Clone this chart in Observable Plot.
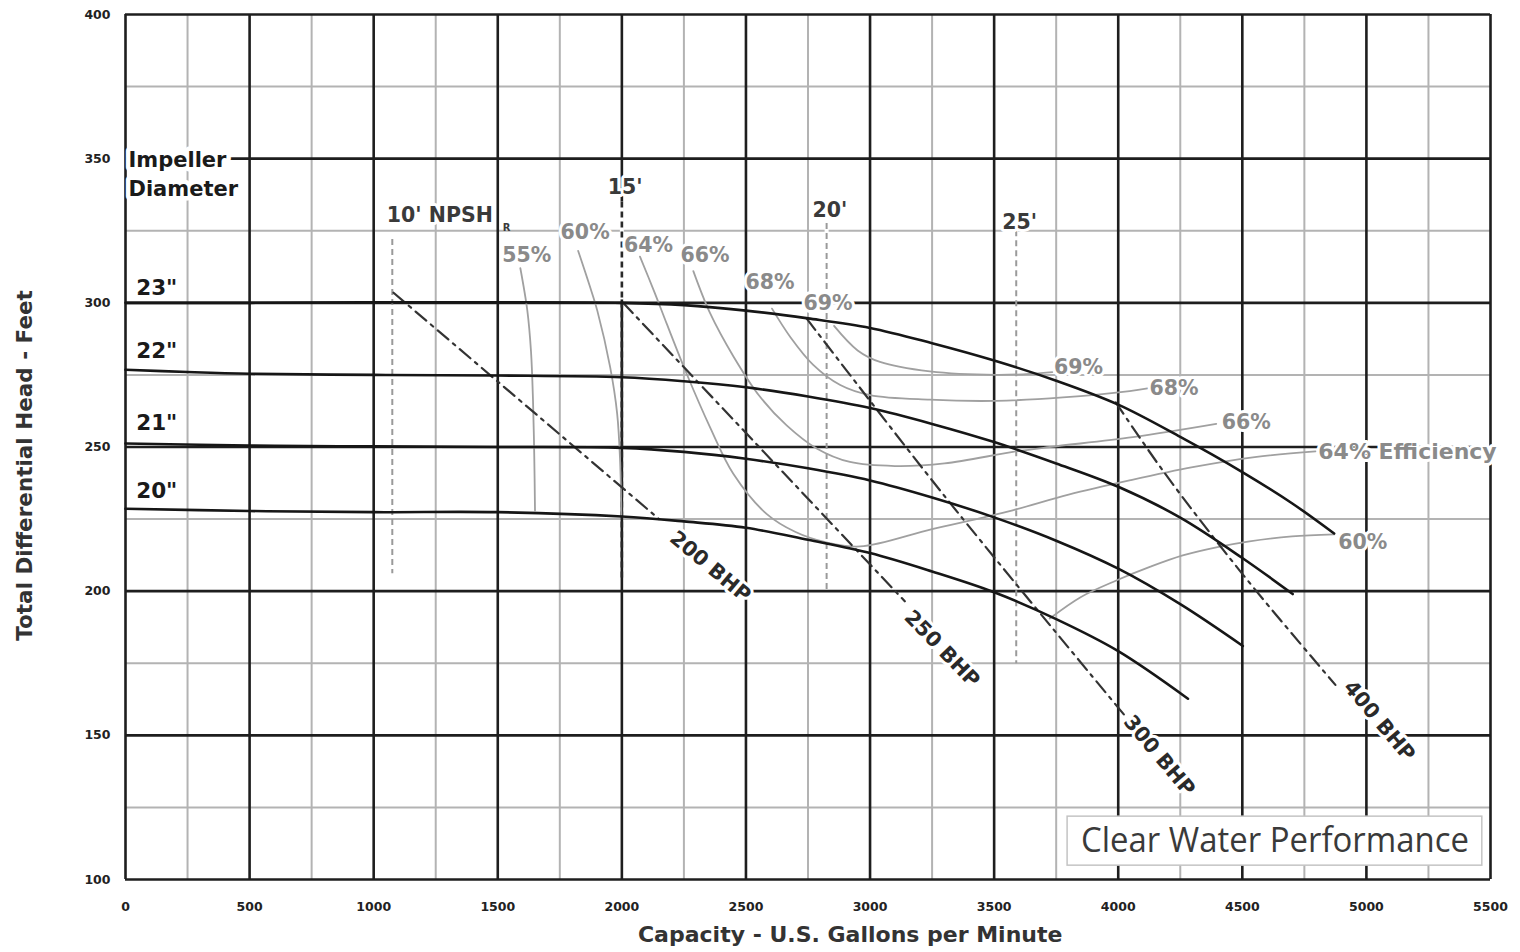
<!DOCTYPE html>
<html>
<head>
<meta charset="utf-8">
<script src="https://cdn.jsdelivr.net/npm/d3@7"></script>
<script src="https://cdn.jsdelivr.net/npm/@observablehq/plot@0.6"></script>
<style>
  html, body { margin: 0; padding: 0; background: #fff; }
  #chart { width: 1520px; height: 952px; overflow: hidden; }
</style>
</head>
<body>
<div id="chart"></div>
<script>
// ---------------- data ----------------
const xTicks = [0, 500, 1000, 1500, 2000, 2500, 3000, 3500, 4000, 4500, 5000, 5500];
const yTicks = [100, 150, 200, 250, 300, 350, 400];
const xMinor = [250, 750, 1250, 1750, 2250, 2750, 3250, 3750, 4250, 4750, 5250];
const yMinor = [125, 175, 225, 275, 325, 375];

const xTitle = "Capacity - U.S. Gallons per Minute";
const yTitle = "Total Differential Head - Feet";

// head-capacity curves per impeller diameter [gpm, ft]
const impellerNames = ['23"', '22"', '21"', '20"'];
const head23 = [[0,300],[500,300],[1000,300.2],[1500,300.2],[2000,300],[2250,299.2],[2500,297.3],[2750,294.6],[3000,291.3],[3250,286],[3500,280],[3750,273],[4000,264.7],[4250,253.5],[4500,241.3],[4700,230.5],[4870,220]];
const head22 = [[0,276.8],[250,276],[500,275.4],[1000,275],[1500,274.8],[2000,274.2],[2250,272.8],[2500,270.7],[2750,267.5],[3000,263.5],[3250,258],[3500,251.7],[3750,244.3],[4000,236.2],[4250,225.5],[4500,211.5],[4703,199]];
const head21 = [[0,251.2],[500,250.5],[1000,250.2],[1500,250],[2000,249.7],[2250,248.3],[2500,245.9],[2750,242.6],[3000,238.4],[3250,232.5],[3500,225.6],[3750,217.5],[4000,207.8],[4250,195.5],[4502,181]];
const head20 = [[0,228.6],[500,227.8],[1000,227.4],[1500,227.4],[2000,225.9],[2250,224.2],[2500,222],[2750,217.8],[3000,213.2],[3250,206.8],[3500,199.6],[3750,190.3],[4000,179.2],[4281,162.7]];
const impellerLabelY = [305.1, 283.1, 258.2, 234.6];
const impellerLabelX = 43;

// efficiency contours [gpm, ft]
const eff55 = [[1591,312],[1619,297.4],[1634,283],[1642,266],[1647,247],[1650,228]];
const eff60 = [[1824,318],[1870,306],[1901,297.3],[1953,277.6],[1981,261.6],[1993,245],[1998,226.5]];
const eff64 = [[2073,316],[2130,304],[2181,292.7],[2261,275.4],[2355,256.9],[2449,240.7],[2583,226.8],[2700,220.5],[2820,217],[2960,215.5],[3250,221.5],[3550,227.5],[3800,233.5],[4050,238.5],[4300,243],[4550,246.5],[4795,248.5]];
const eff66 = [[2288,311],[2355,296.5],[2449,281.5],[2556,267.5],[2664,257.5],[2785,249.5],[2919,244.8],[3100,243.4],[3300,244.3],[3576,248.3],[3724,250],[4059,253.4],[4395,258]];
const eff68 = [[2605,298],[2680,288],[2771,278.5],[2880,271.5],[3000,268],[3241,266.4],[3509,266],[3777,267.2],[4046,269.4],[4118,270.3]];
const eff69 = [[2855,292],[2950,283.5],[3040,279.5],[3241,276.2],[3509,275],[3650,275.4],[3735,276]];
const eff60r = [[3724,190.5],[3850,198],[3992,203.7],[4130,208.5],[4260,212.4],[4400,215.3],[4529,217.3],[4700,219],[4870,219.7]];

// efficiency labels [text, gpm, ft]
const effLabels = [["55%",1617,316.4],["60%",1852,324.5],["64%",2107,320],["66%",2335,316.4],["68%",2597,307.2],["69%",2831,299.7],
                   ["69%",3840,277.6],["68%",4225,270.2],["66%",4516,258.6],["60%",4985,217]];
const effLegendLabel = ["64% Efficiency", 4806, 248.2];

// brake horsepower lines [gpm, ft]
const bhp200 = [[1080,303.5],[2150,225]];
const bhp250 = [[2005,300],[3140,196.5]];
const bhp300 = [[2745,294.5],[3300,233],[4025,157]];
const bhp400 = [[3990,265.5],[4180,241.8],[4500,206],[4875,167.5]];
const bhpLabels = [["200 BHP",2356,208.5,40],["250 BHP",3290,180,46],["300 BHP",4165,143,50],["400 BHP",5052,155,50]];

// NPSHr lines [name, gpm, top ft, bottom ft]
const npsh = [["10'",1075,322,206],["15'",2000,335,204],["20'",2825,327.5,200],["25'",3589,325,174.8]];
const npshMainLabel = ["10' NPSH", 1053, 330.3];
const npshLabels = [["15'",2013,340.1],["20'",2838,332],["25'",3603,327.9]];
const npshSub = ["R", 1520, 326];

const headerLines = [["Impeller",12,349.4],["Diameter",12,339.3]];
const noteText = "Clear Water Performance";
const noteBox = [3796, 5467, 104.8, 121.8];

// ---------------- build tables ----------------
const toRows = (pts, series) => pts.map(([x, y]) => ({x, y, series}));
const headRows = [head23, head22, head21, head20].flatMap((p, i) => toRows(p, impellerNames[i]));
const effRows = [["55",eff55],["60",eff60],["64",eff64],["66",eff66],["68",eff68],["69",eff69],["60r",eff60r]].flatMap(([k,p]) => toRows(p, k));
const bhpRows = [["200",bhp200],["250",bhp250],["300",bhp300],["400",bhp400]].flatMap(([k,p]) => toRows(p, k));
const headLabelRows = impellerNames.map((t, i) => ({t, x: impellerLabelX, y: impellerLabelY[i]}));

const FONT = "'DejaVu Sans', 'Liberation Sans', Arial, sans-serif";
const lab = {fontFamily: FONT, fontWeight: "bold"};

const chart = Plot.plot({
  width: 1520,
  height: 952,
  marginLeft: 125,
  marginRight: 30,
  marginTop: 14,
  marginBottom: 73,
  x: {domain: [0, 5500]},
  y: {domain: [100, 400]},
  style: {fontFamily: FONT, background: "#fff", overflow: "visible"},
  marks: [
    // grid
    Plot.ruleX(xMinor, {stroke: "#b3b3b3", strokeWidth: 2}),
    Plot.ruleY(yMinor, {stroke: "#b3b3b3", strokeWidth: 2}),
    Plot.ruleX(xTicks, {stroke: "#1e1e1e", strokeWidth: 2.6}),
    Plot.ruleY(yTicks, {stroke: "#1e1e1e", strokeWidth: 2.6}),
    // axes
    Plot.axisX(xTicks, {tickSize: 0, tickPadding: 23, fontSize: 12.5, fontWeight: "bold", tickFormat: d => String(d), label: null}),
    Plot.axisY(yTicks, {tickSize: 0, tickPadding: 15, fontSize: 12.5, fontWeight: "bold", tickFormat: d => String(d), label: null}),
    Plot.text([xTitle], {x: () => 2920, frameAnchor: "bottom", dy: 62, fontSize: 22, ...lab, fill: "#333"}),
    Plot.text([yTitle], {y: () => 243.6, frameAnchor: "left", textAnchor: "middle", dx: -100, rotate: -90, fontSize: 21.5, ...lab, fill: "#333"}),
    // NPSH white underlay above 300 ft and dashed lines
    Plot.ruleX(npsh, {x: d => d[1], y1: d => d[2], y2: 301, stroke: "#fff", strokeWidth: 4}),
    Plot.ruleX(npsh, {x: d => d[1], y1: d => d[2], y2: d => d[3], stroke: d => d[0] === "15'" ? "#2a2a2a" : "#9a9a9a", strokeWidth: d => d[0] === "15'" ? 2.6 : 2, strokeDasharray: "6,4"}),
    // efficiency contours
    Plot.line(effRows, {x: "x", y: "y", z: "series", curve: "catmull-rom", stroke: "#a0a0a0", strokeWidth: 1.8}),
    // BHP lines
    Plot.line(bhpRows, {x: "x", y: "y", z: "series", curve: "catmull-rom", stroke: "#333", strokeWidth: 2.2, strokeDasharray: "14,6,3,6"}),
    // head curves
    Plot.line(headRows, {x: "x", y: "y", z: "series", curve: "catmull-rom", stroke: "#161616", strokeWidth: 2.6}),
    // labels
    Plot.text(effLabels, {x: d => d[1], y: d => d[2], text: d => d[0], fontSize: 20.5, ...lab, fill: "#8a8a8a", stroke: "#fff", strokeWidth: 6}),
    Plot.text([effLegendLabel], {x: d => d[1], y: d => d[2], text: d => d[0], textAnchor: "start", fontSize: 22, ...lab, fill: "#8a8a8a", stroke: "#fff", strokeWidth: 6}),
    Plot.text(bhpLabels, {x: d => d[1], y: d => d[2], text: d => d[0], rotate: d => d[3], fontSize: 20.5, ...lab, fill: "#2a2a2a", stroke: "#fff", strokeWidth: 6}),
    Plot.text([npshMainLabel], {x: d => d[1], y: d => d[2], text: d => d[0], textAnchor: "start", fontSize: 20.5, ...lab, fill: "#3a3a3a", stroke: "#fff", strokeWidth: 6}),
    Plot.text(npshLabels, {x: d => d[1], y: d => d[2], text: d => d[0], fontSize: 20.5, ...lab, fill: "#3a3a3a", stroke: "#fff", strokeWidth: 6}),
    Plot.text([npshSub], {x: d => d[1], y: d => d[2], text: d => d[0], textAnchor: "start", fontSize: 10, ...lab, fill: "#3a3a3a"}),
    Plot.text(headLabelRows, {x: "x", y: "y", text: "t", textAnchor: "start", fontSize: 21.5, ...lab, fill: "#1a1a1a", stroke: "#fff", strokeWidth: 5}),
    Plot.text(headerLines, {x: d => d[1], y: d => d[2], text: d => d[0], textAnchor: "start", fontSize: 21, ...lab, fill: "#1a1a1a", stroke: "#fff", strokeWidth: 9}),
    // note box
    Plot.rect([noteBox], {x1: d => d[0], x2: d => d[1], y1: d => d[2], y2: d => d[3], fill: "#fff", stroke: "#c4c4c4", strokeWidth: 1.5}),
    Plot.text([noteText], {x: () => (noteBox[0] + noteBox[1]) / 2, y: () => (noteBox[2] + noteBox[3]) / 2, fontSize: 34, fontFamily: "'Open Sans', sans-serif", fill: "#3a3a3a"})
  ]
});

document.getElementById("chart").appendChild(chart);
const svg = d3.select(chart);
svg.selectAll('g[aria-label^="x-axis tick label"] text, g[aria-label^="y-axis tick label"] text')
  .attr("fill", "#222").style("font-family", FONT).style("font-size", "12.5px").style("font-weight", "bold");
svg.selectAll("text").filter(function() { return this.textContent === noteText; })
  .attr("textLength", 388).attr("lengthAdjust", "spacingAndGlyphs");
</script>
</body>
</html>
